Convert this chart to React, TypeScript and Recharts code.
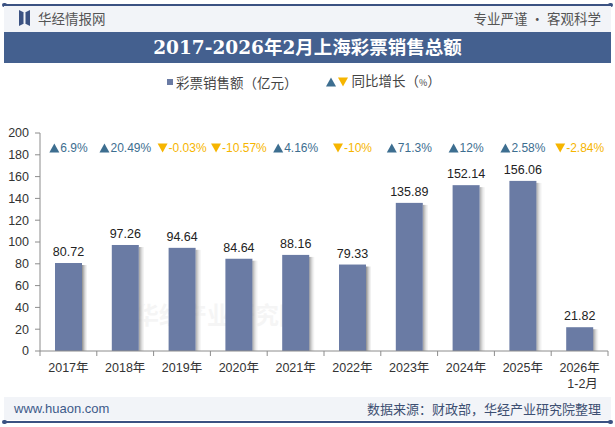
import { BarChart, Bar, XAxis, YAxis, LabelList } from 'recharts';

// 上海彩票销售额（亿元）与同比增长（%）
const years = ['2017年', '2018年', '2019年', '2020年', '2021年', '2022年', '2023年', '2024年', '2025年', '2026年\n1-2月'];
const sales = [80.72, 97.26, 94.64, 84.64, 88.16, 79.33, 135.89, 152.14, 156.06, 21.82];
const growth = [6.9, 20.49, -0.03, -10.57, 4.16, -10, 71.3, 12, 2.58, -2.84];
const yTicks = [0, 20, 40, 60, 80, 100, 120, 140, 160, 180, 200];

const data = years.map((year, i) => ({ year, sales: sales[i], growth: growth[i] }));

const NAVY = '#3b5282';
const BAR = '#6a7ba4';
const UP = '#3d6e90';
const DOWN = '#f6b500';
const FONT = '"Liberation Sans", Arial, "Noto Sans CJK SC", sans-serif';
const CJK = '"Noto Sans CJK SC", "Liberation Sans", sans-serif';

const shade = ['#9a9a9a', '#b4b4b4', '#cdcdcd', '#e2e2e2', '#f1f1f1'];

// Liberation Sans 的字宽（em）
const charW: Record<string, number> = { '.': 0.278, '-': 0.333, '%': 0.889 };
const textWidth = (s: string, size: number) =>
  s.split('').reduce((w, c) => w + (charW[c] ?? 0.556) * size, 0);

const Triangle = ({ x, y, up, size = 10 }: { x: number; y: number; up: boolean; size?: number }) => {
  const h = size * 0.9;
  const pts = up
    ? `${x},${y + h / 2} ${x + size / 2},${y - h / 2} ${x + size},${y + h / 2}`
    : `${x},${y - h / 2} ${x + size / 2},${y + h / 2} ${x + size},${y - h / 2}`;
  return <polygon points={pts} fill={up ? UP : DOWN} />;
};

// 柱子右侧带一点阴影
const ShadowBar = (props: any) => {
  const { x, y, width, height, fill } = props;
  return (
    <g>
      {shade.map((c, i) => (
        <rect key={i} x={x + width + i} y={y + 2} width={1} height={Math.max(height - 2, 0)} fill={c} />
      ))}
      <rect x={x} y={y} width={width} height={height} fill={fill} />
    </g>
  );
};

const GrowthLabel = (props: any) => {
  const { x, width, value } = props;
  const up = value >= 0;
  const label = `${value}%`;
  const tri = 10;
  const total = tri + 1 + textWidth(label, 12);
  const left = x + width / 2 - total / 2;
  return (
    <g>
      <Triangle x={left} y={148} up={up} size={tri} />
      <text x={left + tri + 1} y={152} fontSize={12} fontFamily={FONT} fill={up ? UP : DOWN}>
        {label}
      </text>
    </g>
  );
};

const XTick = (props: any) => {
  const { x, payload, index } = props;
  const half = payload.offset ?? 28.4;
  const lines = String(payload.value).split('\n');
  return (
    <g>
      <line x1={x - half} y1={351} x2={x - half} y2={356} stroke="#8c8c8c" />
      {index === years.length - 1 && <line x1={x + half} y1={351} x2={x + half} y2={356} stroke="#8c8c8c" />}
      <text x={x} y={372} textAnchor="middle" fontSize={12.5} fontFamily={FONT} fill="#333">
        {lines.map((l, i) => (
          <tspan key={i} x={x + (i > 0 ? 3 : 0)} dy={i === 0 ? 0 : 16}>{l}</tspan>
        ))}
      </text>
    </g>
  );
};

const Logo = () => (
  <svg width={11} height={16} style={{ position: 'absolute', left: 19, top: 10 }}>
    <path d="M0 0 L4 2 L7 2 L11 0 L11 16 L7 14 L4 14 L0 16 Z" fill={NAVY} />
    <rect x={4.5} y={2} width={2} height={12} fill="#f2f4f8" />
  </svg>
);

const watermark = { position: 'absolute' as const, color: '#000', opacity: 0.035, fontFamily: CJK, fontWeight: 700, fontSize: 24, whiteSpace: 'nowrap' as const };

export default function App() {
  return (
    <div style={{ position: 'absolute', left: 0, top: 0, width: 615, height: 427, background: '#fff', overflow: 'hidden', fontFamily: CJK }}>
      {/* 顶部线条与页眉 */}
      <div style={{ position: 'absolute', left: 4, top: 4, width: 607, height: 2, background: NAVY }} />
      <div style={{ position: 'absolute', left: 2, top: 3, width: 5, height: 4, borderRadius: 2, background: NAVY }} />
      <div style={{ position: 'absolute', left: 608, top: 3, width: 5, height: 4, borderRadius: 2, background: NAVY }} />
      <div style={{ position: 'absolute', left: 4, top: 6, width: 607, height: 26, background: '#f2f4f8' }} />
      <Logo />
      <div style={{ position: 'absolute', left: 38, top: 9, fontSize: 13.5, color: '#555', lineHeight: '18px' }}>华经情报网</div>
      <div style={{ position: 'absolute', right: 14, top: 9, fontSize: 13.5, color: '#555', lineHeight: '18px' }}>专业严谨 • 客观科学</div>
      <div style={{ position: 'absolute', left: 4, top: 32, width: 607, height: 31, background: '#44608f', color: '#fff', textAlign: 'center', lineHeight: '31px', fontSize: 18.5, fontWeight: 700, fontFamily: '"DejaVu Serif", "Liberation Serif", "Noto Sans CJK SC", serif' }}>
        2017-2026年2月上海彩票销售总额
      </div>

      {/* 图例 */}
      <div style={{ position: 'absolute', left: 167, top: 71, fontSize: 13.5, color: '#444', lineHeight: '18px', display: 'flex', alignItems: 'center', whiteSpace: 'nowrap' }}>
        <span style={{ display: 'inline-block', width: 6, height: 6, background: BAR, marginRight: 3 }} />
        <span>彩票销售额（亿元）</span>
        <svg width={24} height={12} style={{ marginLeft: 28, marginRight: 2 }}>
          <Triangle x={0} y={6} up size={10} />
          <Triangle x={12} y={6} up={false} size={10} />
        </svg>
        <span>同比增长（<span style={{ fontSize: 9 }}>%</span>）</span>
      </div>

      {/* 水印 */}
      <div style={{ ...watermark, left: 135, top: 296 }}>华经产业研究院</div>

      <div style={{ position: 'absolute', left: 0, top: 0 }}>
        <BarChart width={615} height={427} data={data} margin={{ top: 133, right: 7, left: 0, bottom: 0 }}>
          <YAxis
            domain={[0, 200]}
            ticks={yTicks}
            interval={0}
            width={40}
            tickSize={5}
            tickMargin={6}
            stroke="#8c8c8c"
            tick={{ fill: '#333', fontSize: 12.5, fontFamily: FONT }}
          />
          <XAxis dataKey="year" height={76} interval={0} tickLine={false} stroke="#8c8c8c" tick={<XTick />} />
          <Bar dataKey="sales" fill={BAR} barSize={27} shape={<ShadowBar />} isAnimationActive={false}>
            <LabelList dataKey="sales" position="top" offset={7} fill="#222" fontSize={12.5} fontFamily={FONT} />
            <LabelList dataKey="growth" content={<GrowthLabel />} />
          </Bar>
        </BarChart>
      </div>

      {/* 页脚 */}
      <div style={{ position: 'absolute', left: 4, top: 397, width: 607, height: 23, background: '#f2f4f8' }} />
      <div style={{ position: 'absolute', left: 14, top: 400, fontSize: 13, color: '#3d5a8a', fontFamily: FONT, lineHeight: '18px' }}>www.huaon.com</div>
      <div style={{ position: 'absolute', right: 14, top: 400, fontSize: 13, color: '#3d4f72', lineHeight: '18px' }}>数据来源：财政部，华经产业研究院整理</div>
      <div style={{ position: 'absolute', left: 4, top: 421, width: 607, height: 2, background: NAVY }} />
      <div style={{ position: 'absolute', left: 2, top: 420, width: 5, height: 4, borderRadius: 2, background: NAVY }} />
      <div style={{ position: 'absolute', left: 608, top: 420, width: 5, height: 4, borderRadius: 2, background: NAVY }} />
    </div>
  );
}
